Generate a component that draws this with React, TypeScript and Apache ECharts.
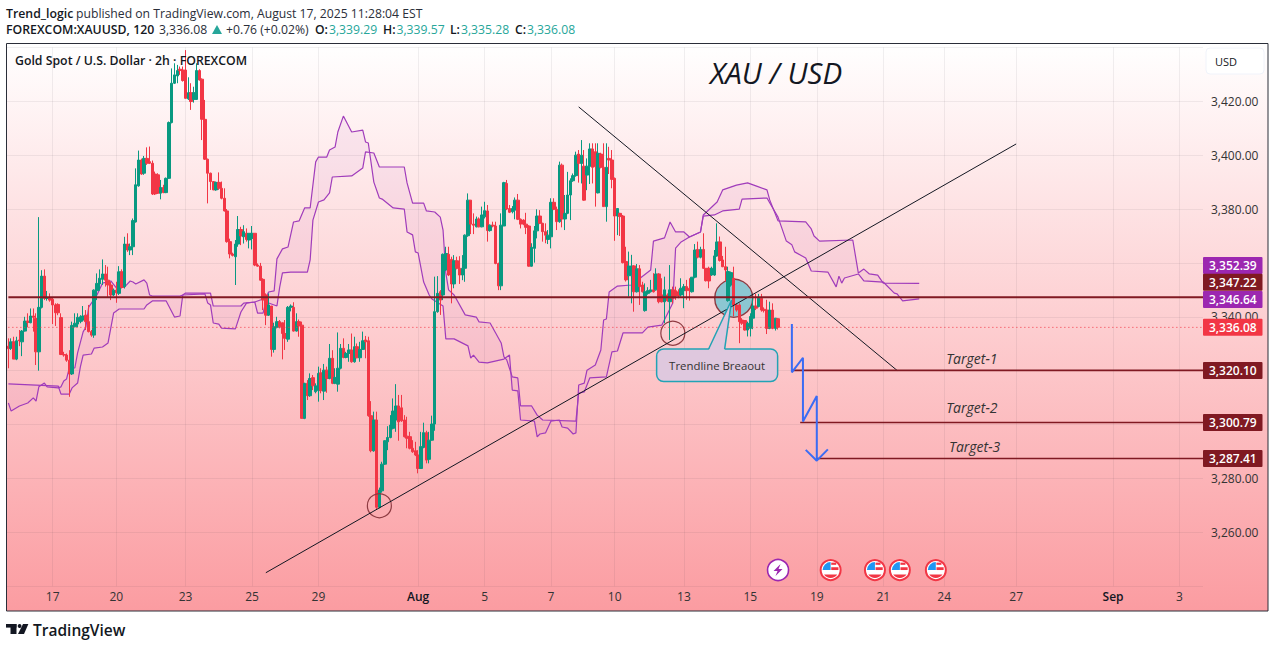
import React, { useEffect, useRef } from "react";
import * as echarts from "echarts";

const BAR_SLOTS = 432;
const tickIndex = [16, 39, 64, 88, 112, 148, 172, 196, 219, 244, 268, 292, 316, 338, 364, 399, 423];
const tickLabel = ["17", "20", "23", "25", "29", "Aug", "5", "7", "10", "13", "15", "19", "21", "24", "27", "Sep", "3"];
const priceLabels = [3420, 3400, 3380, 3340, 3280, 3260];

// open, close, low, high
const candlesJuly: number[][] = [
[3329.1,3328.2,3320.9,3332],[3328.3,3330.7,3327.7,3332],[3330.7,3324.3,3324.3,3332.6],[3324.3,3331.1,3323.9,3332.6],[3331.4,3331.1,3329.1,3335.1],
[3330.7,3334.7,3325.4,3335.1],[3334.7,3338.4,3334.5,3340],[3338.4,3337.9,3336.1,3341.3],[3337.8,3340.3,3337.6,3343.1],[3340.3,3339.8,3334.5,3343.1],
[3339.4,3327,3322.1,3341.3],[3327,3343.5,3320,3377],[3343.5,3355.1,3343.1,3357.3],[3355.1,3346.8,3346.2,3357.6],[3346.8,3347.1,3346,3349.6],
[3346.8,3346.2,3345.6,3348.7],[3346.5,3344.4,3337.3,3347.1],[3344.4,3341.5,3336.6,3345],[3344.6,3341.5,3340.6,3345],[3339.7,3326,3325.8,3341.3],
[3326,3325.8,3325.2,3327],[3325.8,3323.9,3323.3,3326.4],[3323.9,3318.8,3310.3,3327.6],[3318.8,3336.8,3318.4,3338.2],[3336.3,3337.6,3336.1,3341.3],
[3337.3,3339.8,3336.1,3341.3],[3338.2,3340,3337.6,3340.6],[3338.8,3340.3,3338.2,3344],[3340.6,3338.2,3335.1,3342.5],[3338.2,3334.5,3334.2,3344.4],
[3334.5,3333.2,3332.6,3335.1],[3333.2,3349.9,3332.2,3350.2],[3349.7,3352.4,3346.2,3356.1],[3352.2,3354.3,3349.7,3357.6],[3353.9,3355.9,3351.8,3361.3],
[3355.9,3353.6,3351.2,3359.2],[3353.6,3351.8,3347.4,3358.6],[3351.8,3348.1,3346.2,3353],[3348.1,3349.9,3347.7,3350.5],[3349.9,3348.9,3345.2,3353],
[3348.7,3356.7,3348.1,3358.8],[3356.7,3350.9,3350.5,3357.6],[3351.2,3367,3350.5,3369.7],[3367,3364.8,3364.1,3371],[3364.8,3366,3362.9,3367.2],
[3366,3375.7,3362.9,3376.5],[3375.2,3389,3375,3395.1],[3388.6,3398.2,3388.3,3401.7],[3398.2,3393,3392.7,3398.7],[3393.3,3398.8,3392.7,3399.7],
[3398.8,3397,3396.4,3402.9],[3397.6,3397,3396.7,3403.2],[3397,3385.6,3385.2,3398],[3393,3385.6,3385.2,3393.9],[3392.7,3385.9,3385.6,3393.3],
[3385.9,3388,3383.6,3390.8],[3388,3386.1,3385.9,3389],[3386.1,3391.4,3385.9,3391.7],[3391.4,3412.1,3391.2,3412.5],[3412.1,3426.7,3411.8,3432.2],
[3426.7,3429.8,3426.4,3434.1],[3429.4,3431.4,3426.7,3433.5],[3431.9,3431.4,3429.8,3432.9],[3431.6,3427.7,3427.3,3432.9],[3431.6,3421.1,3421,3439],
[3420.9,3423.2,3420.5,3428.9],[3423.2,3419.9,3416.8,3426.7],[3420.7,3423.2,3419.5,3425.4],[3420.7,3431.4,3420.5,3434.1],[3431.4,3427.9,3427.7,3431.9],
[3428.2,3413.3,3405.6,3428.5],[3413.3,3398.5,3398.2,3420.5],[3398.5,3393.3,3382.1,3398.7],[3393.3,3390.2,3387.1,3393.5],[3390.2,3387.1,3387,3390.4],
[3387.1,3389.9,3386.8,3390.2],[3389.9,3387.7,3387.1,3393.6],[3387.7,3384,3383.6,3390.2],[3384,3379.3,3379.1,3387.7],[3379.3,3367.9,3367.5,3380],
[3367.9,3363.3,3361.7,3369],[3363.3,3362.8,3362.4,3363.8],[3362.3,3367,3351.8,3368.5],[3367,3372.4,3366,3377.4],[3372.4,3370,3366.6,3373.4],
[3369.7,3371.6,3367.2,3374],[3371,3368.7,3367.9,3372.8],[3368.5,3371,3365.4,3371],[3369.1,3371,3365,3373.7],[3371,3359.2,3358.8,3371],
[3359.2,3358.8,3358.6,3359.8],[3358.8,3353.6,3353.4,3360],[3353.9,3346.2,3342.5,3354.3],[3348.1,3340.6,3336.9,3348.7],[3340.6,3344.4,3340.3,3348.7],
[3344,3327.9,3325.2,3344],[3327.9,3336.3,3326.7,3337.8],[3336.1,3338.2,3335.7,3340],[3338.2,3336.3,3335.7,3338.8],[3337.8,3333.8,3324.2,3337.8],
[3333.8,3332,3327.7,3338.8],[3331.7,3343.5,3330.7,3344],[3343.5,3344,3342,3344.6],[3343.5,3334.7,3334.5,3345.4],[3334.7,3338.2,3334.5,3341.3],
[3338.2,3336.6,3332.6,3339],[3336.9,3302.3,3302.3,3338.2],[3302.3,3315.3,3302,3315.5],[3315.3,3310.7,3309.1,3316.5],[3310.7,3317.1,3310.3,3319],
[3317.4,3314.4,3312.8,3318.4],[3312.2,3314.4,3311.6,3315.3],[3312.6,3319,3308.5,3321.5],[3319.2,3312.6,3311.6,3320.9],[3312.4,3320.2,3309.1,3322.5],
[3320.2,3317.1,3311.8,3321.5],[3317.1,3324.6,3316.8,3329.9],[3324.6,3315.3,3315,3327.6],[3315.3,3317.5,3315,3320.9],[3315,3320.9,3312.2,3334.2],
[3320.9,3328.3,3320.5,3329.9],[3328.3,3324.9,3324.6,3332],[3324.9,3326.4,3324.6,3327],[3326.4,3327.7,3323.3,3329.9],[3327.7,3323.3,3322.95,3333.8],
[3323.3,3328.9,3322.95,3332.6],[3328.9,3324.8,3324.6,3330.1],[3324.8,3327.9,3323.3,3330.7],[3327.9,3331.1,3327.7,3334.5],[3331.4,3330.7,3324.6,3332.9],
[3331.1,3303.3,3302.9,3332.6],
];
const candlesLow: number[][] = [
[3303.3,3290.3,3289.7,3308.7],[3290.3,3301.7,3289.9,3304.8],[3301.7,3269.3,3268.5,3304.8],[3269.3,3275.7,3268.9,3276.6],[3275.4,3285.3,3274.7,3286.2],
[3285.3,3294,3285,3294.2],[3293.6,3295.2,3290.5,3299.4],[3295.2,3299.8,3294.9,3303.5],[3298.6,3305,3298.2,3309.7],[3301.7,3306.9,3297.3,3315],
[3306.9,3301,3294,3311],[3306.2,3301.4,3301,3311],[3301.7,3295.5,3295.2,3303.5],[3295.7,3294.9,3291.2,3302.9],[3295.5,3291.2,3290.8,3297.3],
[3291.2,3289.9,3289.5,3294.2],[3290.3,3288.7,3288.3,3293.6],[3288.7,3283.7,3281.9,3290.5],[3283.7,3291.8,3283.5,3297.3],[3291.5,3297,3291.2,3300.7],
[3297,3286.8,3285.6,3297.7],[3287.1,3294.2,3285.6,3297.3],[3294.2,3300.2,3294,3303.3],
];
const candlesAugust: number[][] = [
[3300.2,3341.9,3297.7,3354.9],[3341.9,3348.7,3341.5,3355.1],[3349.3,3346.2,3340.7,3349.9],[3348.1,3363.2,3346.2,3363.5],[3357.4,3363.5,3357.1,3366],
[3363.2,3355.5,3355.1,3366],[3361.3,3352.2,3345,3362.3],[3352.2,3360.8,3350.6,3362.9],[3360.8,3358,3357.6,3362.3],[3358,3355.5,3352.2,3362.5],
[3355.5,3358,3353.6,3362.9],[3358,3370.3,3353,3370.6],[3370.1,3383.3,3369.7,3385.8],[3383.3,3374.4,3370.7,3383.3],[3374.4,3374,3370.7,3378.4],
[3373.4,3376.3,3373.2,3377.2],[3376.3,3373.4,3373.2,3376.9],[3373.4,3377.8,3373.2,3380.9],[3377.1,3379.4,3376.5,3382.7],[3379.3,3372,3367.9,3381.5],
[3372,3374,3371.6,3374.3],[3374,3373.7,3373.2,3375.3],[3373.7,3359.8,3359.5,3375.3],[3359.8,3351.5,3349.9,3360.1],[3351.5,3374,3349.9,3378.4],
[3373.7,3389.8,3373.7,3390.1],[3389.5,3380,3379.6,3390.8],[3380.2,3378.8,3378.5,3381.5],[3379,3380.2,3378.4,3381.1],[3379.6,3383.3,3376.2,3384.3],
[3383.3,3376.2,3375.9,3385.6],[3376.2,3374.4,3372.8,3376.5],[3375.9,3374.4,3374,3376.2],[3374.4,3373.2,3370.7,3378.6],[3373.7,3358.8,3358.6,3374],
[3358.8,3365.8,3358.6,3367.3],[3365.4,3371.9,3360.1,3373.7],[3371.9,3377.4,3369.1,3379.9],[3377.4,3374.7,3374.4,3379.6],[3374.7,3371.6,3367.9,3374.9],
[3371.6,3370.3,3367.3,3374.7],[3368.7,3370.3,3367,3372.2],[3369.7,3382.5,3365.4,3384],[3382.5,3379.9,3379.6,3384],[3379.9,3375.3,3372.2,3380.9],
[3375.3,3396.3,3374.9,3397.6],[3396.3,3376.3,3373.2,3396.9],[3376.3,3378.4,3372.2,3385.2],[3378.4,3385.2,3378.1,3393.8],[3385.2,3390.5,3375.9,3391.4],
[3390.5,3392.4,3390.1,3393.2],[3392.4,3400,3392,3401.3],[3400.4,3396.9,3389.8,3401.9],[3396.9,3400,3389.5,3405.6],[3395.9,3383.3,3383.1,3401.9],
[3392.6,3395.9,3387,3398.8],[3395.9,3402.3,3389.3,3404.4],[3402.3,3395.5,3389.5,3404.4],[3401.3,3395.7,3380.9,3404.4],[3386,3400.7,3385.8,3404.4],
[3400.4,3395.5,3395.1,3400.9],[3395.5,3380.9,3380.9,3404.4],[3380.9,3395.5,3375.3,3404.4],[3398.8,3398.2,3393,3403.1],[3398.2,3391,3387.7,3401.9],
[3391.4,3377.4,3368.2,3391.7],[3377.4,3380.2,3370.3,3380.2],[3378.4,3377.2,3370,3378.6],[3377.4,3360.1,3359.8,3377.8],
];
const candlesLate: number[][] = [
[3360.5,3353.7,3353.1,3366],[3355.2,3358.9,3347.5,3364.2],[3355.2,3358.9,3345,3363],[3358.9,3349.3,3341.9,3359.2],[3349.3,3357.8,3349,3359.6],
[3357.8,3351.2,3344.4,3359.2],[3351.8,3349.3,3349,3353],[3342.3,3349.3,3341.9,3352.4],[3348.7,3349.7,3348.2,3351],[3349.3,3350,3349,3353.7],
[3350,3349.3,3349,3356.2],[3350,3355.9,3349.7,3358],[3355.9,3345.6,3345,3356.2],[3348.1,3345.6,3345.3,3354.3],[3345.6,3350,3337.6,3354.9],
[3348.1,3346,3345.6,3348.7],[3345.6,3350,3331.4,3359.2],[3350,3346.9,3345,3351.2],[3349.7,3347.7,3346.3,3351.2],[3349.3,3347.7,3346.9,3350.2],
[3348.1,3350.6,3347.5,3354.3],[3349.7,3351.2,3343.2,3352.2],[3351.2,3349.7,3346.3,3353.7],[3350.6,3349.7,3346,3354.3],[3349.3,3354.7,3349,3354.7],
[3354.7,3364.8,3354.3,3367],[3365,3362.1,3361.7,3367.9],[3362.1,3365,3361.7,3366],[3365,3358,3357.8,3371],[3358,3353.4,3353.1,3358],
[3358,3353.3,3350.6,3358.6],[3355.5,3358,3355.2,3358.6],[3355.5,3362.6,3355.2,3364.8],[3362.6,3367.8,3362.3,3374.7],[3367.8,3360.9,3360.5,3369.8],
[3361.1,3358.6,3358.4,3362.6],[3358.6,3357.4,3353.1,3366],[3346,3356.8,3345.6,3358.6],[3351.8,3356.4,3351.2,3356.8],[3354.3,3344.4,3340.1,3358.6],
[3344.4,3342.5,3341.9,3345],[3344.4,3338.2,3330.2,3345],[3338.8,3337.6,3337,3339.5],[3338.6,3335.1,3334.9,3338.8],[3335.1,3337.6,3332.7,3338.2],
[3335.7,3340.1,3332.7,3341.3],[3339.5,3344,3335.4,3347.5],[3344,3343.2,3342.5,3348.5],[3343.8,3346.9,3343.5,3348.5],[3346.9,3342.5,3341.9,3348.5],
[3342.8,3342.3,3341.6,3343.5],[3342.5,3335.7,3333.6,3346.3],[3335.7,3342.5,3335.4,3345.6],[3342.5,3335.7,3335.4,3345],[3335.7,3339.5,3334.9,3339.5],
[3339.29,3336.08,3335.28,3339.57],
];
const candles = [...candlesJuly, ...candlesLow, ...candlesAugust, ...candlesLate];

// bar index, price
const spanOne: number[][] = [
[0,3315.1],[18,3314.3],[19,3311.3],[22,3311.3],[23,3313.6],[25,3315.4],[26,3321.4],[27,3325.8],[30,3326.2],[31,3328.4],[34,3328.8],[36,3330.3],[38,3341.4],[40,3342.9],[49,3342.9],[50,3344.4],[52,3345.9],[57,3345.9],[60,3339.9],[62,3340.3],[63,3348.1],[64,3348.8],[73,3348.8],[74,3344],[84,3344],[85,3345.1],[89,3345.5],[90,3341.4],[92,3341.4],[93,3345.5],[97,3344],[98,3351],[99,3356.3],[102,3356.6],[108,3356.6],[109,3361.1],[110,3375.9],[112,3382.6],[114,3383.4],[116,3386],[117,3391.9],[124,3392.3],[128,3395.2],[129,3401.2],[132,3400.8],[134,3395.6],[143,3395.6],[144,3389.7],[146,3382.2],[150,3382.2],[151,3379.3],[154,3378.9],[156,3377],[157,3372.2],[158,3356.3],[159,3350],[161,3348.1],[165,3340.7],[169,3339.9],[170,3338.1],[174,3337.7],[176,3334],[178,3330.3],[179,3325.1],[180,3324],[182,3317.7],[184,3317.3],[185,3306.9],[189,3306.9],[191,3303.5],[193,3301.7],[205,3301.3],[206,3311.7],[208,3312.1],[210,3317.3],[216,3317.7],[218,3327],[220,3327.3],[222,3334],[229,3334],[231,3336.2],[236,3336.9],[240,3345.1],[241,3365.5],[243,3367.8],[246,3369.6],[250,3371.5],[251,3377.4],[255,3377.8],[258,3379.3],[264,3380],[265,3383.7],[274,3384.1],[278,3377],[281,3368.1],[283,3366.7],[284,3364.1],[288,3361.8],[290,3357],[296,3356.6],[299,3351.1],[300,3355.1],[301,3352.5],[302,3354.4],[307,3355.9],[309,3353.3],[316,3352.9],[320,3348.8],[321,3348.5],[323,3345.9],[329,3346.64],
];
const spanTwo: number[][] = [
[0,3308],[1,3305],[4,3306.9],[7,3308],[9,3309.9],[10,3308.7],[11,3314],[13,3315.4],[14,3314],[18,3313.6],[19,3314],[20,3316.2],[21,3316.9],[22,3321],[24,3321],[25,3326.6],[27,3334.4],[28,3336.2],[29,3343.6],[32,3348.1],[34,3352.5],[37,3353.3],[39,3350.7],[42,3351.1],[44,3353.3],[45,3352.9],[46,3352.2],[49,3353.7],[50,3352.5],[51,3348.1],[52,3347.7],[62,3347.7],[63,3348.1],[71,3348.5],[72,3345.1],[73,3344.4],[74,3337.7],[76,3337.3],[77,3335.8],[82,3335.5],[84,3341.8],[86,3345.1],[89,3345.5],[93,3347],[94,3349.2],[96,3349.6],[97,3361.5],[99,3365.2],[101,3365.9],[103,3375.2],[105,3375.6],[107,3380.4],[109,3380.4],[111,3397.5],[112,3399.3],[115,3399.3],[116,3401.9],[118,3403],[119,3408.6],[121,3414.5],[124,3408.6],[128,3409.3],[129,3404.9],[130,3404.5],[132,3390],[134,3384.1],[135,3383.7],[139,3380.4],[143,3380],[144,3371.5],[146,3370.4],[147,3364.1],[148,3363.7],[150,3352.9],[152,3348.1],[153,3346.6],[157,3344],[158,3331.8],[161,3331.8],[166,3329.2],[167,3324.7],[168,3325.8],[170,3323.2],[173,3322.9],[179,3324.3],[181,3325.8],[182,3312.8],[184,3312.5],[185,3301.7],[190,3301.3],[191,3295.4],[192,3296.5],[194,3296.9],[196,3301.3],[199,3301.7],[200,3299.1],[202,3298.7],[204,3296.5],[205,3296.9],[206,3314.7],[208,3315.4],[209,3320.2],[212,3322.1],[214,3327.7],[215,3338.8],[216,3339.2],[217,3349.2],[220,3351.4],[225,3351.8],[232,3357.4],[233,3368.1],[237,3369.3],[239,3375.2],[241,3371.5],[244,3371.5],[246,3369.6],[250,3371.5],[251,3377.8],[256,3382.6],[258,3387.1],[263,3388.9],[267,3389.7],[270,3388.6],[274,3387.1],[275,3383.4],[278,3375.6],[288,3375.2],[290,3372.6],[291,3370],[293,3368.1],[305,3368.5],[307,3356.3],[309,3357.7],[311,3355.9],[314,3355.5],[316,3352.5],[329,3352.39],
];

const risingLine = [[93, 3245], [364, 3404.15]];
const fallingLine = [[206, 3417.9], [321, 3320.1]];
const zigzag = [[282.6, 3337.3], [282.6, 3319.4], [286.6, 3324.8], [286.6, 3301.1], [291.7, 3310.6], [291.7, 3286.6]];
const arrowHead = [[287.7, 3290.6], [291.7, 3286.6], [295.6, 3290.8]];
const levelValues = [3347.22, 3320.1, 3300.79, 3287.41];
const levelStart = [-0.5, 283.4, 286.2, 292.2];
const lastPrice = 3336.08;
const targetNames = ["Target-1", "Target-2", "Target-3"];
const targetIndex = [348, 348, 349];
const targetPrice = [3324.7, 3306.5, 3292];
const tagValues = [3352.39, 3347.22, 3346.64, 3336.08, 3320.1, 3300.79, 3287.41];
const tagColors = ["#9c27b0", "#801922", "#9c27b0", "#f23645", "#801922", "#801922", "#801922"];
const tagShift = [-18, -15, 0.6, 0, 0, 0, 0];
const circleIndex = [134, 239.8];
const circlePrice = [3269.9, 3333.9];
const breakCircle = [261.8, 3346.9];
const calloutAnchor = [255.8, 3322.1];
const flagIndex = [297.4, 312.5, 322.4, 334.6];
const boltIndex = 278;
const eventPrice = 3246;
const quoteLabels = ["O:", "H:", "L:", "C:"];
const quoteValues = ["3,339.29", "3,339.57", "3,335.28", "3,336.08"];
const quoteX = [315, 383, 450, 515];
const quoteValueX = [329, 396.5, 461, 527];

const FONT = '"Open Sans", "Noto Sans", sans-serif';
const money = (v: number) => v.toLocaleString("en-US", { minimumFractionDigits: 2, maximumFractionDigits: 2 });
const categories = Array.from({ length: BAR_SLOTS }, (_, i) => {
  const k = tickIndex.indexOf(i);
  return k >= 0 ? tickLabel[k] : "";
});
const isTick = (i: number) => tickIndex.includes(i);

const text = (t: string, x: number, y: number, size: number, fill: string, weight: any = 400, z = 20) => ({
  type: "text", z, silent: true,
  style: { text: t, x, y, fill, font: `${weight} ${size}px ${FONT}`, textVerticalAlign: "middle" },
});

function buildOption() {
  const graphic: any[] = [
    { type: "rect", z: -5, silent: true, shape: { x: 7, y: 44, width: 1261, height: 567 },
      style: { fill: new echarts.graphic.LinearGradient(0, 0, 0, 1, [{ offset: 0, color: "#ffffff" }, { offset: 1, color: "#fb9ca1" }]) } },
    { type: "rect", z: 30, silent: true, shape: { x: 6.5, y: 43.5, width: 1261.5, height: 567.5 }, style: { fill: "none", stroke: "#2a2e39", lineWidth: 1 } },
    text("Trend_logic", 6, 13, 12.3, "#131722", 600),
    text("published on TradingView.com, August 17, 2025 11:28:04 EST", 76, 13, 12.2, "#2a2e39"),
    text("FOREXCOM:XAUUSD, 120", 6, 29, 12.3, "#131722", 600),
    text("3,336.08", 159, 29, 12.2, "#2a2e39"),
    { type: "polygon", z: 20, silent: true, shape: { points: [[212, 34], [222, 34], [217, 25]] }, style: { fill: "#26a69a" } },
    text("+0.76 (+0.02%)", 226, 29, 12.2, "#2a2e39"),
    ...quoteLabels.flatMap((l, i) => [
      text(l, quoteX[i], 29, 12.2, "#131722", 600),
      text(quoteValues[i], quoteValueX[i], 29, 12.2, "#26a69a"),
    ]),
    text("Gold Spot / U.S. Dollar · 2h · FOREXCOM", 15, 60.5, 12.3, "#131722", 600),
    { type: "text", z: 20, silent: true, style: { text: "XAU / USD", x: 776, y: 72, fill: "#131722", font: `italic 400 29.5px ${FONT}`, textAlign: "center", textVerticalAlign: "middle" } },
    { type: "rect", z: 20, silent: true, shape: { x: 1206, y: 48, width: 58, height: 26, r: 4 }, style: { fill: "#ffffff", stroke: "#f0f3fa", lineWidth: 1 } },
    text("USD", 1215, 61.5, 11, "#131722"),
    { type: "rect", z: 20, silent: true, shape: { x: 6, y: 624, width: 10.5, height: 3.6 }, style: { fill: "#131722" } },
    { type: "rect", z: 20, silent: true, shape: { x: 10.5, y: 624, width: 6, height: 10 }, style: { fill: "#131722" } },
    { type: "circle", z: 20, silent: true, shape: { cx: 19.6, cy: 626, r: 1.9 }, style: { fill: "#131722" } },
    { type: "polygon", z: 20, silent: true, shape: { points: [[23, 624], [28.4, 624], [24, 634], [18, 634]] }, style: { fill: "#131722" } },
    text("TradingView", 33, 629.5, 15.5, "#131722", 600),
  ];

  const lineBase = { type: "line", showSymbol: false, symbol: "none", silent: true, animation: false };
  const cloudLine = { width: 1.2, color: "#a03cbb" };
  const levelSeries = levelValues.map((v, i) => ({
    ...lineBase, z: 6, data: [[levelStart[i], v], [BAR_SLOTS - 0.5, v]],
    lineStyle: { color: "#801922", width: i === 0 ? 2 : 1.6 },
  }));

  return {
    animation: false,
    graphic,
    grid: { left: 7, right: 72, top: 47.4, bottom: 61.8, containLabel: false },
    xAxis: {
      type: "category", data: categories, boundaryGap: true,
      axisLine: { show: false }, axisTick: { show: false, alignWithLabel: true },
      axisLabel: {
        interval: (i: number) => isTick(i), margin: 4, color: "#333", fontSize: 12, fontFamily: FONT, hideOverlap: false,
        formatter: (v: string) => (/[A-Za-z]/.test(v) ? `{m|${v}}` : v),
        rich: { m: { fontWeight: 600, color: "#131722", fontSize: 12, fontFamily: FONT } },
      },
      splitLine: { show: true, alignWithLabel: true, interval: (i: number) => isTick(i), lineStyle: { color: "rgba(42,46,57,0.07)", width: 1 } },
    },
    yAxis: {
      type: "value", position: "right", min: 3240, max: 3440, interval: 20, scale: true,
      axisLine: { show: false }, axisTick: { show: false },
      axisLabel: {
        margin: 8, color: "#333", fontSize: 12, fontFamily: FONT,
        formatter: (v: number) => (priceLabels.includes(v) ? money(v) : ""),
      },
      splitLine: { show: true, lineStyle: { color: "rgba(42,46,57,0.07)", width: 1 } },
    },
    series: [
      {
        type: "custom", z: 1, silent: true, data: [[0, 0]],
        renderItem: (_p: any, api: any) => ({
          type: "polygon",
          shape: { points: [...spanOne.map((d) => api.coord(d)), ...[...spanTwo].reverse().map((d) => api.coord(d))] },
          style: { fill: "rgba(156,39,176,0.055)" },
        }),
      },
      { ...lineBase, z: 2, data: spanOne, lineStyle: cloudLine },
      { ...lineBase, z: 2, data: spanTwo, lineStyle: cloudLine },
      {
        type: "custom", z: 3, silent: true, data: [breakCircle],
        renderItem: (_p: any, api: any) => {
          const c = api.coord([api.value(0), api.value(1)]);
          return { type: "circle", shape: { cx: c[0], cy: c[1], r: 19 }, style: { fill: "#8cc7d2", stroke: "#8e3b42", lineWidth: 1.4 } };
        },
      },
      {
        type: "candlestick", z: 4, silent: true, data: candles, barWidth: 3,
        itemStyle: { color: "#089981", color0: "#f23645", borderColor: "#089981", borderColor0: "#f23645", borderWidth: 1 },
      },
      {
        type: "custom", z: 5, silent: true, data: circleIndex.map((x, i) => [x, circlePrice[i]]),
        renderItem: (_p: any, api: any) => {
          const c = api.coord([api.value(0), api.value(1)]);
          return { type: "circle", shape: { cx: c[0], cy: c[1], r: 12 }, style: { fill: "none", stroke: "#8e3b42", lineWidth: 1.2 } };
        },
      },
      { ...lineBase, z: 5, data: risingLine, lineStyle: { color: "#131722", width: 1 } },
      { ...lineBase, z: 5, data: fallingLine, lineStyle: { color: "#131722", width: 1 } },
      { ...lineBase, z: 5, data: [[-0.5, lastPrice], [BAR_SLOTS - 0.5, lastPrice]], lineStyle: { color: "#f23645", width: 1, type: [1, 3] } },
      ...levelSeries,
      { ...lineBase, z: 7, data: zigzag, lineStyle: { color: "#3a6cf4", width: 2 } },
      { ...lineBase, z: 7, data: arrowHead, lineStyle: { color: "#3a6cf4", width: 2 } },
      {
        type: "custom", z: 7, silent: true, data: [calloutAnchor],
        renderItem: (_p: any, api: any) => {
          const c = api.coord([api.value(0), api.value(1)]);
          const [x, y] = c;
          const teal = "#22a3b5", fill = "#dfc8de";
          return {
            type: "group",
            children: [
              { type: "rect", shape: { x: x - 60.5, y: y - 16, width: 121, height: 32.5, r: 7 }, style: { fill, stroke: teal, lineWidth: 1.5 } },
              { type: "polygon", shape: { points: [[x - 8.5, y - 14.8], [x + 7.5, y - 14.8], [x + 14.5, y - 65]] }, style: { fill: "rgba(223,200,222,1)" } },
              { type: "polyline", shape: { points: [[x - 8.5, y - 16], [x + 14.5, y - 65], [x + 7.5, y - 16]] }, style: { fill: "none", stroke: teal, lineWidth: 1.5 } },
              { type: "text", style: { text: "Trendline Breaout", x, y: y + 0.5, fill: "#333", font: `400 11.4px ${FONT}`, textAlign: "center", textVerticalAlign: "middle" } },
            ],
          };
        },
      },
      {
        type: "custom", z: 7, silent: true, data: targetNames.map((_, i) => [targetIndex[i], targetPrice[i]]),
        renderItem: (p: any, api: any) => {
          const c = api.coord([api.value(0), api.value(1)]);
          return { type: "text", style: { text: targetNames[p.dataIndex], x: c[0], y: c[1], fill: "#333", font: `italic 400 14px ${FONT}`, textAlign: "center", textVerticalAlign: "middle" } };
        },
      },
      {
        type: "custom", z: 8, silent: true, data: flagIndex.map((x) => [x, eventPrice]),
        renderItem: (_p: any, api: any) => {
          const [x, y] = api.coord([api.value(0), api.value(1)]);
          const r = (a: number, b: number, w: number, h: number, fill: string) => ({ type: "rect", shape: { x: x + a, y: y + b, width: w, height: h }, style: { fill } });
          const chord = [34, 48, 62, 76, 90, 104, 118, 132, 146].map((deg) => [x + 8 * Math.cos((deg * Math.PI) / 180), y + 8 * Math.sin((deg * Math.PI) / 180)]);
          return {
            type: "group",
            children: [
              { type: "circle", shape: { cx: x, cy: y, r: 10 }, style: { fill: "#fff", stroke: "#f23645", lineWidth: 2 } },
              { type: "sector", shape: { cx: x, cy: y, r: 8, r0: 0, startAngle: -Math.PI, endAngle: -Math.PI / 2 }, style: { fill: "#2196f3" } },
              r(0.6, -7.4, 5, 2.2, "#f23645"),
              r(0.6, -2.8, 7.2, 2.8, "#f23645"),
              { type: "polygon", shape: { points: chord }, style: { fill: "#f23645" } },
            ],
          };
        },
      },
      {
        type: "custom", z: 8, silent: true, data: [[boltIndex, eventPrice]],
        renderItem: (_p: any, api: any) => {
          const [x, y] = api.coord([api.value(0), api.value(1)]);
          const pt = (a: number, b: number) => [x + a, y + b];
          return {
            type: "group",
            children: [
              { type: "circle", shape: { cx: x, cy: y, r: 10.5 }, style: { fill: "#fff", stroke: "#9c27b0", lineWidth: 1.6 } },
              { type: "polygon", shape: { points: [pt(2.5, -6), pt(-4.5, 1), pt(-0.5, 1), pt(-2.5, 6), pt(4.5, -1), pt(0.5, -1)] }, style: { fill: "#9c27b0" } },
            ],
          };
        },
      },
      {
        type: "custom", z: 9, silent: true, data: tagValues.map((v) => [0, v]),
        renderItem: (p: any, api: any) => {
          const i = p.dataIndex;
          const y = api.coord([0, api.value(1)])[1] + tagShift[i];
          return {
            type: "group",
            children: [
              { type: "rect", shape: { x: 1203, y: y - 8.5, width: 59.5, height: 17, r: 1 }, style: { fill: tagColors[i] } },
              { type: "text", style: { text: money(tagValues[i]), x: 1232.8, y: y + 0.3, fill: "#fff", font: `600 12px ${FONT}`, textAlign: "center", textVerticalAlign: "middle" } },
            ],
          };
        },
      },
    ],
  };
}

export default function App() {
  const ref = useRef<HTMLDivElement>(null);
  useEffect(() => {
    document.body.style.margin = "0";
    document.body.style.background = "#fff";
    const chart = echarts.init(ref.current!, undefined, { renderer: "svg" });
    chart.setOption(buildOption() as any);
    return () => chart.dispose();
  }, []);
  return <div ref={ref} style={{ width: 1275, height: 648 }} />;
}
